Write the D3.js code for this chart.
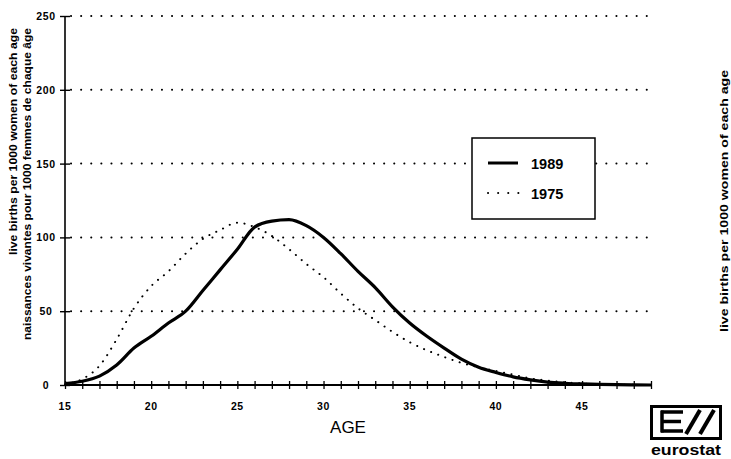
<!DOCTYPE html>
<html>
<head>
<meta charset="utf-8">
<script src="https://cdn.jsdelivr.net/npm/d3@7"></script>
<style>
  html, body { margin: 0; padding: 0; background: #fff; }
  svg { display: block; }
  text { font-family: "Liberation Sans", Arial, sans-serif; fill: #000; }
</style>
</head>
<body>
<svg id="chart" width="731" height="459"></svg>
<script>
// Age-specific fertility rates: live births per 1000 women of each age
const ages = d3.range(15, 50);
const rates1989 = [1, 2.5, 6, 13.5, 25, 33, 42, 50, 64, 78, 92, 107, 111, 112, 108, 100, 89, 77, 66, 53,
                   42, 33, 25, 17.5, 12, 8.5, 5.5, 3.5, 2, 1.2, 0.7, 0.4, 0.2, 0.1, 0];
const rates1975 = [0.5, 4, 13, 31, 52, 67, 77, 89, 99, 105, 110, 107, 101, 92, 82, 73, 62, 52, 44, 36,
                   29, 23.5, 19, 15, 12, 9.5, 7, 4.5, 3, 1.8, 1, 0.5, 0.3, 0.1, 0];
const yTicks = [0, 50, 100, 150, 200, 250];
const xTickLabels = [15, 20, 25, 30, 35, 40, 45];
const seriesNames = ["1989", "1975"];
const yTitleEn = "live births per 1000 women of each age";
const yTitleFr = "naissances vivantes pour 1000 femmes de chaque âge";

const svg = d3.select("#chart");
const x = d3.scaleLinear().domain([15, 49]).range([65, 651]);
const y = d3.scaleLinear().domain([0, 250]).range([385, 16]);

// dotted horizontal grid
svg.append("g").selectAll("line")
  .data(yTicks.filter(v => v > 0))
  .join("line")
  .attr("x1", x(15) + 6).attr("x2", x(49))
  .attr("y1", d => y(d)).attr("y2", d => y(d))
  .attr("stroke", "#000").attr("stroke-width", 2)
  .attr("stroke-linecap", "round")
  .attr("stroke-dasharray", "0.1,10");

// y axis
const yAxis = svg.append("g").attr("transform", `translate(${x(15)},0)`)
  .call(d3.axisLeft(y).tickValues(yTicks).tickSize(5).tickFormat(""));
yAxis.select(".domain").attr("stroke-width", 1.6).attr("d", `M0,${y(250)}V${y(0)}`);
yAxis.selectAll(".tick line").attr("x1", -5).attr("x2", 5).attr("stroke-width", 1.4);
svg.append("g").selectAll("text")
  .data(yTicks)
  .join("text")
  .attr("x", 46).attr("y", d => y(d) + 4)
  .attr("text-anchor", "middle")
  .attr("font-size", 10.5).attr("font-weight", "bold")
  .attr("letter-spacing", 0.6)
  .text(d => d);

// x axis with a tick every year
const xAxis = svg.append("g").attr("transform", `translate(0,${y(0)})`)
  .call(d3.axisBottom(x).tickValues(ages).tickSize(4).tickFormat(""));
xAxis.select(".domain").attr("stroke-width", 1.8).attr("d", `M${x(15)},0H${x(49)}`);
xAxis.selectAll(".tick line").attr("y1", -4).attr("y2", 4).attr("stroke-width", 1.3);
svg.append("g").selectAll("text")
  .data(xTickLabels)
  .join("text")
  .attr("x", d => x(d)).attr("y", 410)
  .attr("text-anchor", "middle")
  .attr("font-size", 10.5).attr("font-weight", "bold")
  .attr("letter-spacing", 0.6)
  .text(d => d);

svg.append("text")
  .attr("x", 348).attr("y", 433)
  .attr("text-anchor", "middle")
  .attr("font-size", 17)
  .text("AGE");

// y axis titles (English / French)
svg.append("text")
  .attr("transform", "translate(17,28) rotate(-90)")
  .attr("text-anchor", "end")
  .attr("font-size", 11).attr("font-weight", "bold")
  .attr("textLength", 227).attr("lengthAdjust", "spacingAndGlyphs")
  .text(yTitleEn);
svg.append("text")
  .attr("transform", "translate(31,28) rotate(-90)")
  .attr("text-anchor", "end")
  .attr("font-size", 11).attr("font-weight", "bold")
  .attr("textLength", 312).attr("lengthAdjust", "spacingAndGlyphs")
  .text(yTitleFr);

// title of the neighbouring panel at the right edge
svg.append("text")
  .attr("transform", "translate(728,70) rotate(-90)")
  .attr("text-anchor", "end")
  .attr("font-size", 10.5).attr("font-weight", "bold")
  .attr("textLength", 262).attr("lengthAdjust", "spacingAndGlyphs")
  .text(yTitleEn);

// curves
const line = d3.line()
  .x((d, i) => x(ages[i]))
  .y(d => y(d))
  .curve(d3.curveMonotoneX);

svg.append("path")
  .datum(rates1975)
  .attr("d", line)
  .attr("fill", "none").attr("stroke", "#000")
  .attr("stroke-width", 2).attr("stroke-linecap", "round")
  .attr("stroke-dasharray", "0.1,7.5");

svg.append("path")
  .datum(rates1989)
  .attr("d", line)
  .attr("fill", "none").attr("stroke", "#000")
  .attr("stroke-width", 3.2).attr("stroke-linejoin", "round");

// legend
const lg = svg.append("g");
lg.append("rect")
  .attr("x", 472).attr("y", 138).attr("width", 123).attr("height", 81)
  .attr("fill", "#fff").attr("stroke", "#000").attr("stroke-width", 1.5);
lg.append("line")
  .attr("x1", 488).attr("x2", 518).attr("y1", 163).attr("y2", 163)
  .attr("stroke", "#000").attr("stroke-width", 3);
lg.append("line")
  .attr("x1", 488).attr("x2", 520).attr("y1", 193).attr("y2", 193)
  .attr("stroke", "#000").attr("stroke-width", 2).attr("stroke-linecap", "round")
  .attr("stroke-dasharray", "0.1,10");
lg.selectAll("text")
  .data(seriesNames)
  .join("text")
  .attr("x", 531).attr("y", (d, i) => 169 + i * 30)
  .attr("font-size", 14.5).attr("font-weight", "bold")
  .text(d => d);

// eurostat logo
const logo = svg.append("g");
logo.append("rect")
  .attr("x", 651.5).attr("y", 406.5).attr("width", 69).attr("height", 32)
  .attr("fill", "#fff").attr("stroke", "#000").attr("stroke-width", 3);
[[412, 661, 683], [421.5, 661, 681], [431, 661, 683]].forEach(([yy, a, b]) => {
  logo.append("line").attr("x1", a).attr("x2", b).attr("y1", yy).attr("y2", yy)
    .attr("stroke", "#000").attr("stroke-width", 3.5);
});
logo.append("line").attr("x1", 662).attr("x2", 662).attr("y1", 410.5).attr("y2", 432.5)
  .attr("stroke", "#000").attr("stroke-width", 3.5);
[[686, 700], [700, 714]].forEach(([a, b]) => {
  logo.append("line").attr("x1", a).attr("y1", 434).attr("x2", b).attr("y2", 410)
    .attr("stroke", "#000").attr("stroke-width", 4);
});
logo.append("text")
  .attr("x", 686).attr("y", 455)
  .attr("text-anchor", "middle")
  .attr("font-size", 15).attr("font-weight", "bold")
  .attr("textLength", 70).attr("lengthAdjust", "spacingAndGlyphs")
  .text("eurostat");
</script>
</body>
</html>
